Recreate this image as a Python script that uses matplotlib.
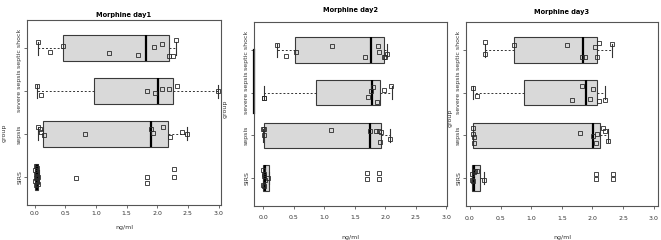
import numpy as np
import matplotlib
matplotlib.use("Agg")
import matplotlib.pyplot as plt

# ------------------------------------------------------------
# data
# group order bottom -> top: SIRS, sepsis, severe sepsis, septic shock
# ------------------------------------------------------------
groups = ["SIRS", "sepsis", "severe sepsis", "septic shock"]
titles = ["Morphine day1", "Morphine day2", "Morphine day3"]
x_ticks = [0.0, 0.5, 1.0, 1.5, 2.0, 2.5, 3.0]

# box statistics per day: [SIRS, sepsis, severe sepsis, septic shock]
day1_lo = [0.00, 0.05, 0.03, 0.05]
day1_q1 = [0.01, 0.13, 0.97, 0.46]
day1_med = [0.03, 1.89, 2.02, 1.81]
day1_q3 = [0.05, 2.17, 2.26, 2.19]
day1_hi = [0.07, 2.48, 2.99, 2.30]

day2_lo = [0.00, 0.00, 0.01, 0.22]
day2_q1 = [0.00, 0.01, 0.87, 0.52]
day2_med = [0.03, 1.75, 1.78, 1.77]
day2_q3 = [0.10, 1.93, 1.92, 1.97]
day2_hi = [0.10, 2.08, 2.11, 2.02]

day3_lo = [0.03, 0.05, 0.05, 0.24]
day3_q1 = [0.03, 0.05, 0.89, 0.72]
day3_med = [0.06, 2.01, 1.89, 1.85]
day3_q3 = [0.17, 2.12, 2.07, 2.08]
day3_hi = [0.23, 2.25, 2.21, 2.32]

# individual measurements (ng/ml) and their vertical jitter as drawn
day1_vals = [
    [0.02, 0.03, 0.01, 0.04, 0.02, 0.03, 0.05, 0.02, 0.04, 0.01, 0.03, 0.06, 0.02, 0.04,
     0.67, 1.84, 1.84, 2.28, 2.28],
    [0.05, 0.09, 0.11, 0.15, 0.82, 1.89, 1.93, 2.10, 2.21, 2.40, 2.48],
    [0.03, 0.11, 1.83, 1.97, 2.08, 2.19, 2.32, 2.99],
    [0.05, 0.25, 0.46, 1.21, 1.69, 1.94, 2.08, 2.19, 2.26, 2.30],
]
day1_jit = [
    [0.26, 0.20, 0.15, 0.10, 0.06, 0.02, -0.01, -0.04, -0.07, -0.10, -0.13, -0.16, -0.19, 0.00,
     -0.02, 0.00, -0.15, 0.17, 0.00],
    [0.17, 0.11, 0.05, -0.02, -0.01, 0.12, 0.02, 0.16, -0.07, 0.04, 0.00],
    [0.12, -0.10, 0.00, -0.04, 0.05, 0.05, 0.12, 0.00],
    [0.15, -0.08, 0.05, -0.10, -0.16, 0.02, 0.10, -0.18, -0.18, 0.19],
]

day2_vals = [
    [0.00, 0.01, 0.02, 0.03, 0.08, 0.00, 0.01, 1.70, 1.70, 1.90, 1.90],
    [0.00, 0.02, 0.01, 1.11, 1.75, 1.84, 1.89, 1.93, 1.91, 2.08],
    [0.01, 0.02, 1.72, 1.77, 1.80, 1.86, 1.98, 2.10],
    [0.22, 0.37, 0.53, 1.12, 1.66, 1.88, 1.89, 1.97, 1.99, 2.02],
]
day2_jit = [
    [0.18, 0.10, 0.04, -0.06, 0.00, -0.16, -0.20, 0.12, -0.02, 0.12, -0.02],
    [0.14, 0.14, 0.00, 0.12, 0.10, 0.10, 0.10, 0.07, -0.16, -0.08],
    [-0.12, -0.12, -0.09, 0.04, 0.14, -0.21, 0.06, 0.16],
    [0.12, -0.13, -0.05, 0.10, -0.17, 0.10, -0.04, -0.16, -0.15, -0.09],
]

day3_vals = [
    [0.04, 0.06, 0.08, 0.11, 0.04, 0.05, 0.23, 2.05, 2.05, 2.34, 2.34],
    [0.05, 0.05, 0.06, 0.06, 1.80, 2.01, 2.07, 2.06, 2.17, 2.21, 2.25],
    [0.05, 0.11, 1.66, 1.83, 1.96, 2.01, 2.10, 2.21],
    [0.24, 0.25, 0.72, 1.59, 1.83, 1.87, 2.04, 2.07, 2.10, 2.32],
]
day3_jit = [
    [0.10, 0.14, 0.16, 0.16, -0.04, -0.08, -0.05, 0.08, -0.02, 0.08, -0.02],
    [0.16, 0.04, -0.05, -0.17, 0.06, -0.02, 0.02, -0.19, 0.16, 0.09, -0.13],
    [0.12, -0.08, -0.18, 0.15, -0.14, 0.09, -0.19, -0.16],
    [0.19, -0.09, 0.11, 0.11, -0.17, -0.17, 0.07, -0.15, 0.16, 0.15],
]

# ------------------------------------------------------------
# layout (figure fractions) and per-panel tweaks
# ------------------------------------------------------------
W, H = 661, 240
frames = [(27, 221, 20, 205), (254, 447, 22, 206), (466, 658, 22, 206)]   # px: left, right, top, bottom
xlims = [(-0.125, 3.04), (-0.152, 3.01), (-0.065, 3.07)]
title_pad = [2.5, 7.5, 6.0]
xtick_pad = [2.0, 4.5, 5.0]
ylab_xy = [(-0.105, 0.39), (-0.135, 0.53), (-0.07, 0.48)]
xlab_y = [-0.11, -0.16, -0.16]

box_stats = [
    (day1_lo, day1_q1, day1_med, day1_q3, day1_hi),
    (day2_lo, day2_q1, day2_med, day2_q3, day2_hi),
    (day3_lo, day3_q1, day3_med, day3_q3, day3_hi),
]
all_vals = [day1_vals, day2_vals, day3_vals]
all_jit = [day1_jit, day2_jit, day3_jit]

fig = plt.figure(figsize=(W / 100, H / 100), dpi=100)
fig.patch.set_facecolor("white")

positions = np.arange(1, len(groups) + 1)
frame_col = "#555555"

for k in range(3):
    l, r, t, b = frames[k]
    ax = fig.add_axes([l / W, 1 - b / H, (r - l) / W, (b - t) / H])

    lo, q1, med, q3, hi = box_stats[k]
    stats = []
    for i in range(len(groups)):
        stats.append(dict(whislo=lo[i], q1=q1[i], med=med[i], q3=q3[i], whishi=hi[i], fliers=[]))

    ax.bxp(stats, positions=positions, widths=0.6, orientation="horizontal",
           patch_artist=True, showfliers=False, capwidths=0.3,
           boxprops=dict(facecolor="#d9d9d9", edgecolor="#3a3a3a", linewidth=0.8),
           whiskerprops=dict(color="#333333", linewidth=0.7, linestyle=(0, (2, 2))),
           capprops=dict(color="#333333", linewidth=0.8),
           medianprops=dict(color="black", linewidth=1.6))

    # stripchart-like overlay of the single values
    for i in range(len(groups)):
        xs = np.array(all_vals[k][i])
        ys = positions[i] + np.array(all_jit[k][i])
        ax.plot(xs, ys, linestyle="none", marker="s", markersize=3.2,
                markerfacecolor="none", markeredgecolor="#2a2a2a", markeredgewidth=0.6,
                zorder=4)

    ax.set_xlim(*xlims[k])
    ax.set_ylim(0.34, 4.66)
    ax.set_xticks(x_ticks)
    ax.set_xticklabels([f"{v:.1f}" for v in x_ticks])
    ax.set_yticks(positions)
    ax.set_yticklabels(groups, rotation=90, va="center")
    ax.tick_params(axis="both", labelsize=4.5, length=2, width=0.6, color=frame_col,
                   labelcolor="#333333")
    ax.tick_params(axis="x", pad=xtick_pad[k])
    ax.tick_params(axis="y", pad=1.5)
    for s in ax.spines.values():
        s.set_color(frame_col)
        s.set_linewidth(0.8)

    ax.set_title(titles[k], fontsize=4.8, fontweight="bold", pad=title_pad[k])
    ax.set_xlabel("ng/ml", fontsize=4.5, color="#333333")
    ax.xaxis.set_label_coords(0.5, xlab_y[k])
    ax.set_ylabel("group", fontsize=4.5, color="#333333")
    ax.yaxis.set_label_coords(*ylab_xy[k])

    if k == 1:
        # dark stroke on the left frame seen in the original scan
        ax.plot([0, 0], [0.505, 0.85], transform=ax.transAxes, color="black",
                linewidth=1.6, clip_on=False)

fig.savefig("out.png", dpi=100, facecolor="white")
